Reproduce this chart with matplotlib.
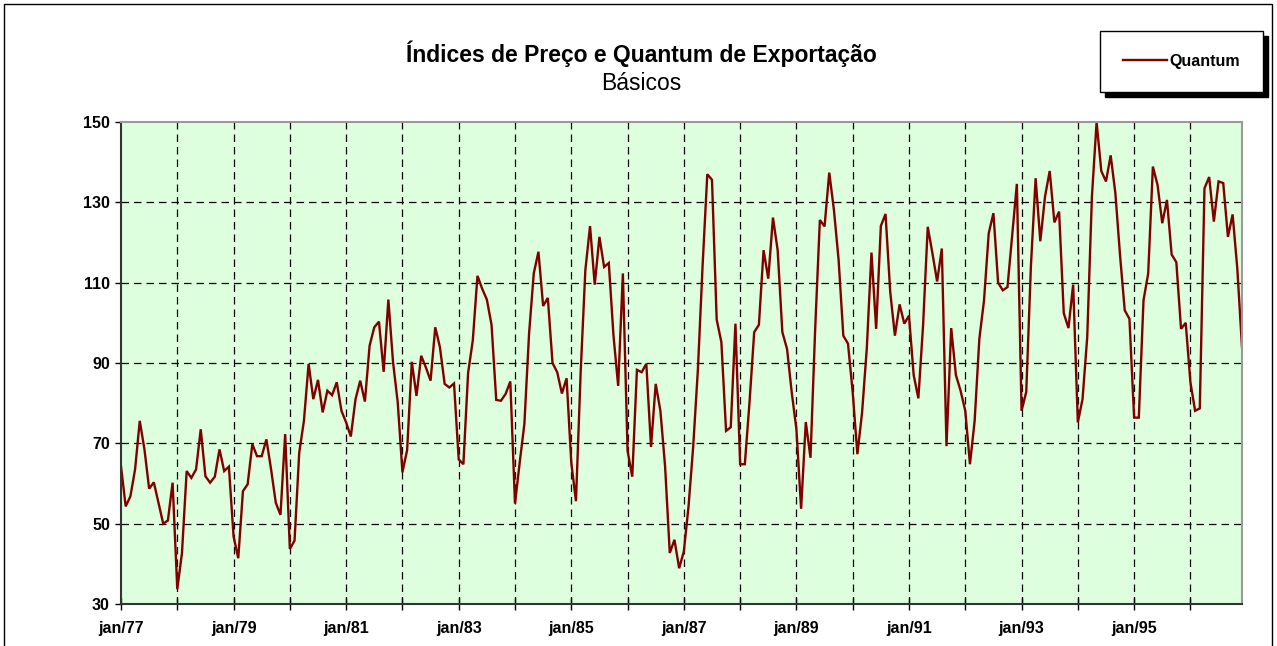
import matplotlib
matplotlib.use("Agg")
import matplotlib.pyplot as plt
from matplotlib.patches import Rectangle
from matplotlib.lines import Line2D
import numpy as np

plt.rcParams['font.family'] = ['Liberation Sans', 'DejaVu Sans']

title = "Índices de Preço e Quantum de Exportação"
subtitle = "Básicos"
series_name = "Quantum"

# Monthly values, jan/77 .. dec/96
quantum = [
    64.3, 54.3, 56.8, 63.5, 75.6, 68.5, 58.7, 60.3, 55.2, 50.0, 50.8, 60.2,   # 1977
    33.7, 42.7, 63.1, 61.4, 63.5, 73.5, 61.8, 60.2, 61.7, 68.5, 63.1, 64.2,   # 1978
    46.8, 41.4, 58.1, 59.8, 69.8, 66.8, 66.8, 71.0, 63.5, 55.2, 52.2, 72.3,   # 1979
    43.7, 45.8, 67.7, 75.6, 89.8, 81.0, 85.8, 77.7, 83.1, 82.0, 85.2, 78.1,   # 1980
    75.2, 71.7, 81.0, 85.6, 80.4, 94.3, 98.9, 100.3, 87.8, 105.8, 90.2, 80.2, # 1981
    62.8, 68.3, 90.3, 81.8, 91.8, 88.9, 85.6, 98.9, 93.9, 84.8, 83.9, 84.9,   # 1982
    66.0, 64.8, 87.5, 95.6, 111.7, 108.5, 105.8, 99.5, 80.8, 80.6, 82.3, 85.4, # 1983
    55.0, 65.2, 74.8, 97.3, 112.3, 117.7, 104.2, 106.2, 90.0, 87.7, 82.4, 86.2, # 1984
    65.2, 55.6, 87.7, 113.1, 124.1, 109.5, 121.4, 113.9, 114.9, 96.8, 84.3, 112.3, # 1985
    68.1, 61.7, 88.3, 87.7, 89.8, 69.1, 84.8, 78.1, 64.3, 42.7, 46.0, 38.9,   # 1986
    43.1, 54.3, 69.3, 88.5, 114.3, 137.0, 135.6, 100.8, 95.2, 73.1, 74.0, 99.8, # 1987
    64.8, 64.8, 80.2, 97.7, 99.5, 118.1, 111.0, 126.2, 118.1, 97.7, 93.5, 82.7, # 1988
    73.5, 53.7, 75.3, 66.4, 98.5, 125.6, 124.0, 137.4, 128.1, 115.6, 96.8, 94.8, # 1989
    82.7, 67.3, 77.7, 93.5, 117.5, 98.5, 124.1, 127.1, 107.7, 96.8, 104.6, 99.8, # 1990
    101.8, 87.0, 81.2, 99.3, 123.9, 117.3, 110.3, 118.5, 69.3, 98.7, 87.0, 83.1, # 1991
    78.1, 64.8, 75.6, 96.0, 105.6, 122.3, 127.3, 110.0, 108.1, 108.9, 121.8, 134.6, # 1992
    78.1, 82.8, 114.3, 136.0, 120.3, 131.4, 137.8, 125.0, 127.7, 102.4, 98.7, 109.5, # 1993
    75.2, 81.0, 96.4, 131.4, 150.0, 137.8, 135.2, 141.7, 132.3, 116.8, 103.1, 101.0, # 1994
    76.4, 76.4, 105.6, 112.3, 138.9, 134.3, 124.8, 130.6, 117.0, 115.1, 98.5, 100.0, # 1995
    85.2, 78.1, 78.7, 133.5, 136.3, 125.2, 135.2, 134.8, 121.4, 127.0, 113.5, 93.9, # 1996
]

tick_labels = ["jan/77", "jan/79", "jan/81", "jan/83", "jan/85",
               "jan/87", "jan/89", "jan/91", "jan/93", "jan/95"]
y_ticks = [30, 50, 70, 90, 110, 130, 150]

W, H = 1277, 646
fig = plt.figure(figsize=(W / 100, H / 100), dpi=100)
fig.patch.set_facecolor("white")

# outer chart border
fig.patches.append(Rectangle((4 / W, -0.01), (1272 - 4) / W, (H - 4) / H + 0.01,
                             transform=fig.transFigure, fill=False,
                             edgecolor="black", linewidth=1.0))

ax = fig.add_axes([121 / W, 1 - 604 / H, (1242 - 121) / W, (604 - 122) / H])
ax.set_facecolor("#DDFFDD")

x = np.arange(len(quantum))
ax.plot(x, quantum, color="#800000", linewidth=1.7, solid_joinstyle="miter")

ax.set_xlim(0, len(quantum) - 1)
ax.set_ylim(30, 150)

# grid
year_pos = np.arange(0, len(quantum), 12)
for xp in year_pos[1:]:
    ax.axvline(xp, color="black", linestyle=(0, (6, 4)), linewidth=0.9, zorder=1)
for yv in y_ticks[1:-1]:
    ax.axhline(yv, color="black", linestyle=(0, (6, 4)), linewidth=0.9, zorder=1)

ax.set_xticks(year_pos, minor=False)
ax.set_xticklabels([tick_labels[i // 2] if i % 2 == 0 else "" for i in range(len(year_pos))])
ax.set_yticks(y_ticks)
ax.set_yticklabels([str(v) for v in y_ticks])
ax.tick_params(axis="x", direction="inout", length=8, width=1, pad=8,
               labelsize=11.5)
ax.tick_params(axis="y", direction="out", length=4, width=1, pad=4,
               labelsize=11.5)
for lab in ax.get_xticklabels() + ax.get_yticklabels():
    lab.set_fontweight("bold")

for side in ["left", "bottom"]:
    ax.spines[side].set_color("#333333")
    ax.spines[side].set_linewidth(1.5)
for side in ["top", "right"]:
    ax.spines[side].set_color("#999999")
    ax.spines[side].set_linewidth(1.5)

# titles
fig.text(641 / W, 1 - 54 / H, title, ha="center", va="center",
         fontsize=16.5, fontweight="bold")
fig.text(641 / W, 1 - 84 / H, subtitle, ha="center", va="center",
         fontsize=16.5)

# legend box with shadow
lx0, lx1, ly0, ly1 = 1100, 1263, 31, 92
fig.patches.append(Rectangle(((lx0 + 5) / W, 1 - (ly1 + 5) / H), (lx1 - lx0) / W,
                             (ly1 - ly0) / H, transform=fig.transFigure,
                             facecolor="black", edgecolor="black", zorder=5))
fig.patches.append(Rectangle((lx0 / W, 1 - ly1 / H), (lx1 - lx0) / W,
                             (ly1 - ly0) / H, transform=fig.transFigure,
                             facecolor="white", edgecolor="black",
                             linewidth=1.0, zorder=6))
handle = Line2D([], [], color="#800000", linewidth=1.7)
leg = fig.legend([handle], [series_name], loc="center",
                 bbox_to_anchor=((lx0 + lx1) / 2 / W, 1 - (ly0 + ly1) / 2 / H),
                 frameon=False, handlelength=2.75, handletextpad=0.2,
                 prop={"weight": "bold", "size": 11.5})
leg.set_zorder(7)

fig.savefig("out.png", dpi=100)
